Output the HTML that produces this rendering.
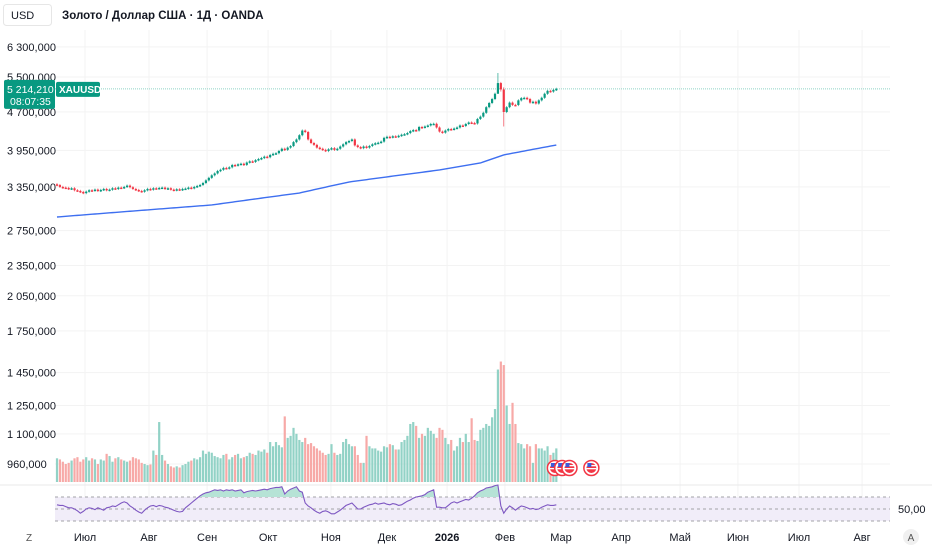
<!DOCTYPE html>
<html><head><meta charset="utf-8"><style>
body{margin:0;background:#fff;width:932px;height:550px;overflow:hidden;font-family:"Liberation Sans",sans-serif}
svg text{font-family:"Liberation Sans",sans-serif}
</style></head><body>
<svg id="c" width="932" height="550" xmlns="http://www.w3.org/2000/svg"></svg>
<script>
const closes=[3378,3350,3340,3335,3320,3330,3300,3290,3275,3258,
3280,3300,3295,3310,3290,3305,3320,3300,3310,3330,
3320,3340,3335,3350,3370,3345,3320,3305,3290,3280,
3300,3320,3310,3330,3325,3335,3340,3320,3330,3310,
3300,3315,3305,3320,3325,3340,3330,3350,3365,3380,
3410,3450,3490,3530,3560,3600,3620,3650,3640,3660,
3699,3690,3710,3720,3700,3740,3760,3750,3780,3800,
3817,3840,3830,3870,3890,3900,3940,3980,3960,4000,
4028,4100,4150,4230,4320,4292,4150,4084,4050,4000,
3980,3960,3940,3970,3990,3960,3980,4020,4060,4100,
4121,4150,4040,4010,3990,4020,4000,4030,4060,4080,
4090,4110,4180,4200,4190,4210,4200,4220,4240,4250,
4272,4310,4330,4320,4390,4380,4400,4420,4450,4454,
4380,4300,4280,4320,4350,4340,4360,4380,4420,4410,
4450,4480,4470,4460,4552,4600,4680,4800,4892,4980,
5100,5352,5200,4697,4800,4900,4850,4848,4950,5000,
5008,4980,4900,4920,4880,4950,5008,5100,5168,5150,
5190,5214];
const volumes=[985,980,970,960,965,975,985,990,970,980,
990,975,985,980,960,980,975,1005,995,970,
985,990,980,975,970,975,990,985,980,965,
960,955,958,1020,1000,1160,1000,975,960,950,
945,950,945,955,960,970,975,985,980,990,
1020,1005,1015,1010,995,990,985,1000,1005,980,
990,1000,1005,985,990,995,1010,1005,1000,1020,
1015,1025,1010,1060,1040,1060,1045,1035,1190,1080,
1090,1130,1100,1070,1060,1080,1050,1055,1040,1030,
1020,1010,1000,1005,1050,1010,1000,1005,1060,1075,
1050,1040,1040,1000,965,965,1090,1040,1030,1030,
1020,1015,1040,1035,1050,1045,1025,1025,1060,1070,
1090,1150,1160,1140,1080,1100,1090,1130,1115,1100,
1080,1130,1120,1080,1050,1070,1020,1040,1080,1060,
1100,1060,1180,1070,1065,1120,1130,1150,1140,1185,
1230,1470,1524,1500,1250,1150,1265,1150,1055,1050,
1030,1050,1040,965,1050,1030,1030,1020,1040,1000,
1010,1030];
const rsi=[57,56,56,54,52,52,50,47,43,46,
50,52,51,49,52,50,48,52,53,55,
54,57,60,62,60,55,52,48,45,43,
48,52,55,56,54,56,55,53,52,50,
48,46,45,46,52,56,60,64,68,72,
75,77,78,80,82,81,82,80,82,81,
82,80,81,82,77,79,80,81,80,81,
82,83,82,84,85,86,86,87,75,80,
83,85,87,80,78,60,55,52,48,45,
43,46,47,45,42,42,45,48,52,56,
58,60,55,50,50,53,55,57,58,60,
58,59,60,58,57,59,58,56,57,60,
63,65,68,70,71,72,74,78,80,82,
53,53,52,52,56,60,62,60,62,64,
66,65,68,72,77,80,82,85,86,87,
89,90,55,43,50,55,52,48,52,55,
54,52,50,51,49,50,53,55,57,56,
56,57];
const maIdx=[0,53,83,100,131,145,153,171];
const maVals=[2925,3088,3259,3425,3616,3732,3870,4047];
const wickOverrides={151:[5600,5100],153:[5250,4400],152:[5380,5150]};
const priceTicks=[6300,5500,4700,3950,3350,2750,2350,2050,1750,1450,1250,1100,960];
const priceTickLabels=["6 300,000","5 500,000","4 700,000","3 950,000","3 350,000","2 750,000","2 350,000","2 050,000","1 750,000","1 450,000","1 250,000","1 100,000","960,000"];
const monthLabels=["Июл","Авг","Сен","Окт","Ноя","Дек","2026","Фев","Мар","Апр","Май","Июн","Июл","Авг"];
const monthPos=[9.6,31.5,51.4,72.3,93.8,113,133.6,153.4,172.6,193.2,213.4,233.2,254.1,275.7];
const lastPrice=5214.21;

const NS="http://www.w3.org/2000/svg";
const svg=document.getElementById('c');
function mk(t,a,p){const e=document.createElementNS(NS,t);for(const k in a)e.setAttribute(k,a[k]);(p||svg).appendChild(e);return e;}
const X0=57,STEP=2.92,L=55,R=890;
const xAt=i=>X0+i*STEP;
const yP=p=>464-221.7*Math.log(p/960);
const yR=r=>509-(r-50)*0.6;
const VBASE=482;

priceTicks.forEach((p,i)=>{
  const g=mk('line',{x1:L,x2:R,y1:yP(p),y2:yP(p),stroke:'#f3f3f3','stroke-width':1});
  
  const t=mk('text',{x:7,y:yP(p)+4,'font-size':11,fill:'#131722'});t.textContent=priceTickLabels[i];
  
});
monthPos.forEach((m,i)=>{
  const x=xAt(m);
  const g=mk('line',{x1:x,x2:x,y1:30,y2:522,stroke:'#f3f3f3','stroke-width':1});
  
  const t=mk('text',{x:x,y:541,'font-size':11,fill:'#131722','text-anchor':'middle','font-weight':monthLabels[i]==='2026'?'bold':'normal'});
  t.textContent=monthLabels[i];
  
});

const vg=mk('g',{});
volumes.forEach((v,i)=>{
  const up=i===0?true:closes[i]>=closes[i-1];
  const y=yP(v);
  const b=mk('rect',{x:xAt(i)-1.1,y:y,width:2.2,height:Math.max(1,VBASE-y),fill:up?'#92d2c6':'#f7a9a7'},vg);
  
});

let pts=[];
for(let k=0;k<maIdx.length-1;k++){
  for(let i=maIdx[k];i<maIdx[k+1];i++){const f=(i-maIdx[k])/(maIdx[k+1]-maIdx[k]);pts.push([xAt(i),yP(maVals[k]+(maVals[k+1]-maVals[k])*f)]);}
}
pts.push([xAt(171),yP(maVals[maVals.length-1])]);
const ma=mk('polyline',{points:pts.map(p=>p.join(',')).join(' '),fill:'none',stroke:'#3e6ff0','stroke-width':1.4});


const pl=mk('line',{x1:L,x2:R,y1:yP(lastPrice),y2:yP(lastPrice),stroke:'#8fd3c5','stroke-width':1,'stroke-dasharray':'1,1'});


const cg=mk('g',{});
closes.forEach((c,i)=>{
  const o=i===0?3390:closes[i-1];
  const up=c>=o;const col=up?'#089981':'#f23645';
  let hi=Math.max(o,c)*1.005,lo=Math.min(o,c)*0.995;
  if(wickOverrides[i]){hi=wickOverrides[i][0];lo=wickOverrides[i][1];}
  const x=xAt(i);
  const w=mk('line',{x1:x,x2:x,y1:yP(hi),y2:yP(lo),stroke:col,'stroke-width':0.8,opacity:0.8},cg);
  
  const yt=yP(Math.max(o,c)),yb=yP(Math.min(o,c));
  const b=mk('rect',{x:x-1.1,y:yt,width:2.2,height:Math.max(1.5,yb-yt),fill:col},cg);
  
});

[170.5,173,175.5,183].forEach(i=>{
  const g=mk('g',{});
  const x=xAt(i);
  mk('circle',{cx:x,cy:468,r:7.5,fill:'#fff',stroke:'#f23645','stroke-width':1.5},g);
  mk('circle',{cx:x,cy:468,r:5,fill:'#f23645'},g);
  mk('rect',{x:x-5,y:465,width:10,height:1.3,fill:'#fff'},g);
  mk('rect',{x:x-5,y:468,width:10,height:1.3,fill:'#fff'},g);
  mk('rect',{x:x-4,y:463,width:4,height:4,fill:'#3d5bd9'},g);
});

const sep=mk('line',{x1:0,x2:932,y1:485,y2:485,stroke:'#e9e9ea'});

const band=mk('rect',{x:L,y:yR(70),width:R-L,height:yR(30)-yR(70),fill:'#f1edf9'});

[70,50,30].forEach(v=>{const l=mk('line',{x1:L,x2:R,y1:yR(v),y2:yR(v),stroke:'#a3a3a8','stroke-width':1,'stroke-dasharray':'3,3'});
});
const rp=rsi.map((r,i)=>[xAt(i),yR(r)]);
const cp=mk('clipPath',{id:'ob'});mk('rect',{x:0,y:0,width:932,height:yR(70)},cp);
const fill=mk('polygon',{points:rp.map(p=>p.join(',')).join(' ')+` ${xAt(171)},${yR(70)} ${xAt(0)},${yR(70)}`,fill:'#b6e3d6','clip-path':'url(#ob)'});

const rl=mk('polyline',{points:rp.map(p=>p.join(',')).join(' '),fill:'none',stroke:'#7e57c2','stroke-width':1.1});

const r50=mk('text',{x:898,y:yR(50)+4,'font-size':11,fill:'#131722'});r50.textContent='50,00';


const ub=mk('g',{});
mk('rect',{x:3.5,y:4.5,width:48,height:21,rx:3,fill:'#fff',stroke:'#e6e6e6'},ub);
const ut=mk('text',{x:11,y:19,'font-size':11,fill:'#131722'},ub);ut.textContent='USD';
const tt=mk('text',{x:62,y:19,'font-size':11.5,'font-weight':'bold',fill:'#131722'});tt.textContent='Золото / Доллар США · 1Д · OANDA';


const lg=mk('g',{});
const ly=yP(lastPrice);
mk('rect',{x:4,y:ly-9,width:51,height:29,rx:2,fill:'#089981'},lg);
const l1=mk('text',{x:7,y:ly+4,'font-size':10.5,fill:'#fff'},lg);l1.textContent='5 214,210';
const l2=mk('text',{x:10,y:ly+16,'font-size':10.5,fill:'#fff'},lg);l2.textContent='08:07:35';
const sg=mk('g',{});
mk('rect',{x:56,y:ly-7,width:44,height:15,rx:2,fill:'#089981'},sg);
const s1=mk('text',{x:59,y:ly+4,'font-size':10,'font-weight':'bold',fill:'#fff'},sg);s1.textContent='XAUUSD';

const z=mk('text',{x:26,y:541,'font-size':10,fill:'#555'});z.textContent='Z';
const ag=mk('g',{});
mk('circle',{cx:911,cy:537,r:8,fill:'#f0f0f0'},ag);
const at=mk('text',{x:911,y:541,'font-size':10,fill:'#555','text-anchor':'middle'},ag);at.textContent='A';
</script>
</body></html>
